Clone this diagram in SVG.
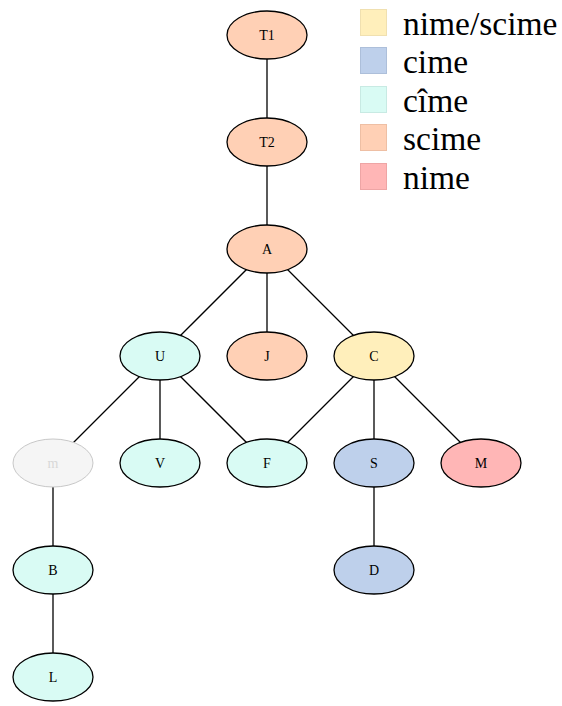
<svg xmlns="http://www.w3.org/2000/svg" width="562" height="706" viewBox="0 0 562 706">
<style>
.n ellipse{stroke:#000;stroke-width:1.3}
.n text{font-family:'Liberation Serif','Times New Roman',serif;font-size:14px;text-anchor:middle;fill:#000}
.sc{fill:#ffd0b5}.ci{fill:#bed0eb}.cc{fill:#d9fbf4}.ns{fill:#ffefbb}.ni{fill:#ffb6b6}
#edges line{stroke:#000;stroke-width:1.3}
.lg rect{stroke-width:1}
.lg text{font-family:'Liberation Serif','Times New Roman',serif;font-size:33.5px;fill:#000}
</style>
<rect width="562" height="706" fill="#fff"/>
<g id="edges">
<line x1="267" y1="35" x2="267" y2="142"/>
<line x1="267" y1="142" x2="267" y2="249"/>
<line x1="267" y1="249" x2="160" y2="356"/>
<line x1="267" y1="249" x2="267" y2="356"/>
<line x1="267" y1="249" x2="374" y2="356"/>
<line x1="160" y1="356" x2="53" y2="463"/>
<line x1="160" y1="356" x2="160" y2="463"/>
<line x1="160" y1="356" x2="267" y2="463"/>
<line x1="374" y1="356" x2="267" y2="463"/>
<line x1="374" y1="356" x2="374" y2="463"/>
<line x1="374" y1="356" x2="481" y2="463"/>
<line x1="53" y1="463" x2="53" y2="570"/>
<line x1="374" y1="463" x2="374" y2="570"/>
<line x1="53" y1="570" x2="53" y2="677"/>
</g>
<g id="T1" class="n"><ellipse class="sc" cx="267" cy="35" rx="40" ry="24"/><text x="267" y="40">T1</text></g>
<g id="T2" class="n"><ellipse class="sc" cx="267" cy="142" rx="40" ry="24"/><text x="267" y="147">T2</text></g>
<g id="A" class="n"><ellipse class="sc" cx="267" cy="249" rx="40" ry="24"/><text x="267" y="254">A</text></g>
<g id="U" class="n"><ellipse class="cc" cx="160" cy="356" rx="40" ry="24"/><text x="160" y="361">U</text></g>
<g id="J" class="n"><ellipse class="sc" cx="267" cy="356" rx="40" ry="24"/><text x="267" y="361">J</text></g>
<g id="C" class="n"><ellipse class="ns" cx="374" cy="356" rx="40" ry="24"/><text x="374" y="361">C</text></g>
<g id="X" class="n"><ellipse cx="53" cy="463" rx="40" ry="24" style="fill:#f5f5f5;stroke:#c8c8c8;stroke-width:1"/><text x="53" y="468" style="fill:#d8d8d8">m</text></g>
<g id="V" class="n"><ellipse class="cc" cx="160" cy="463" rx="40" ry="24"/><text x="160" y="468">V</text></g>
<g id="F" class="n"><ellipse class="cc" cx="267" cy="463" rx="40" ry="24"/><text x="267" y="468">F</text></g>
<g id="S" class="n"><ellipse class="ci" cx="374" cy="463" rx="40" ry="24"/><text x="374" y="468">S</text></g>
<g id="M" class="n"><ellipse class="ni" cx="481" cy="463" rx="40" ry="24"/><text x="481" y="468">M</text></g>
<g id="B" class="n"><ellipse class="cc" cx="53" cy="570" rx="40" ry="24"/><text x="53" y="575">B</text></g>
<g id="D" class="n"><ellipse class="ci" cx="374" cy="570" rx="40" ry="24"/><text x="374" y="575">D</text></g>
<g id="L" class="n"><ellipse class="cc" cx="53" cy="677" rx="40" ry="24"/><text x="53" y="682">L</text></g>
<g id="legend" class="lg">
<rect x="360.5" y="9.5" width="26" height="26" fill="#ffefbb" stroke="#f0e0b0"/><text x="403" y="35">nime/scime</text>
<rect x="360.5" y="47.5" width="26" height="26" fill="#bed0eb" stroke="#adbfda"/><text x="403" y="73">cime</text>
<rect x="360.5" y="86.5" width="26" height="26" fill="#d9fbf4" stroke="#c8eae3"/><text x="403" y="112">cîme</text>
<rect x="360.5" y="124.5" width="26" height="26" fill="#ffd0b5" stroke="#eebfa4"/><text x="403" y="150">scime</text>
<rect x="360.5" y="163.5" width="26" height="26" fill="#ffb6b6" stroke="#eea5a5"/><text x="403" y="189">nime</text>
</g>
</svg>
